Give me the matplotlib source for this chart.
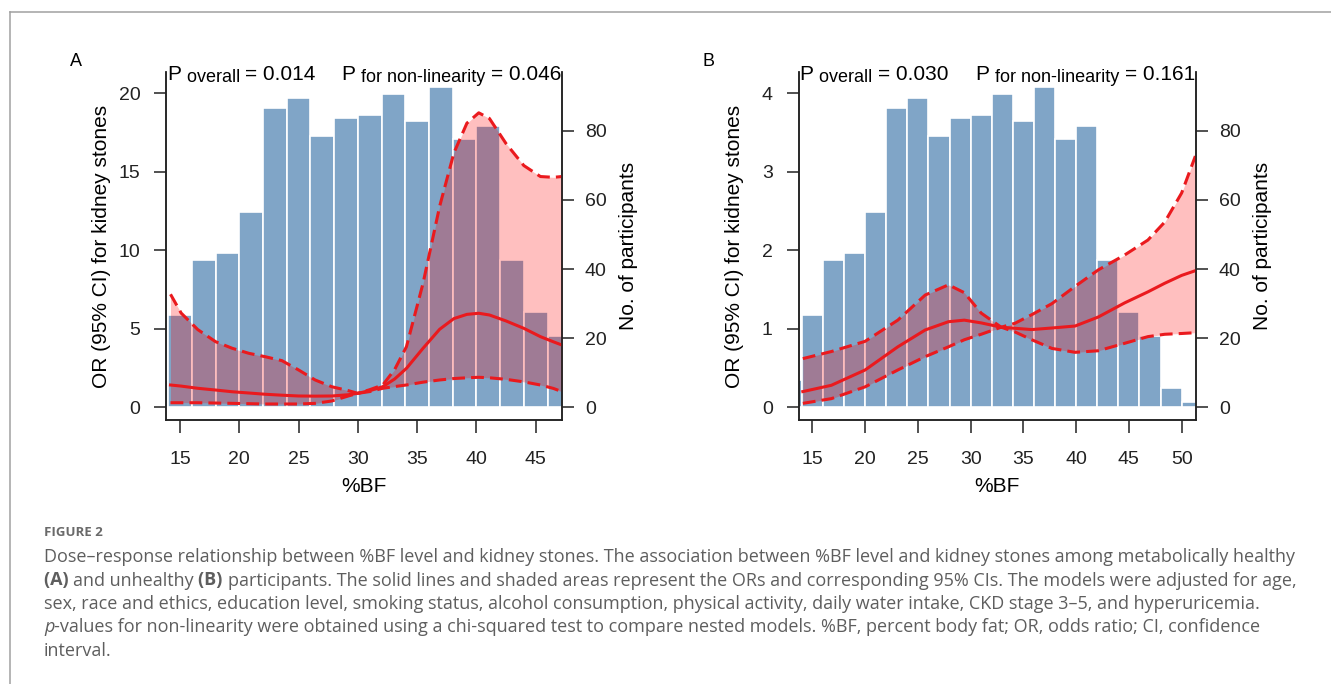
import numpy as np
import matplotlib
matplotlib.use("Agg")
import matplotlib.pyplot as plt
from matplotlib.lines import Line2D

plt.rcParams['font.family'] = ['Liberation Sans', 'DejaVu Sans']

W, H = 1331, 684

# histogram of %BF (same bins drawn in both panels)
bins_a = [12, 14, 16, 18, 20, 22, 24, 26, 28, 30, 32, 34, 36, 38, 40, 42, 44, 46]
counts_a = [7.9, 26.7, 42.6, 44.5, 56.6, 86.6, 89.6, 78.6, 83.6, 84.6, 90.6, 82.7,
            92.6, 77.7, 81.5, 42.6, 27.6, 20.7]
bins_b = [12, 14, 16, 18, 20, 22, 24, 26, 28, 30, 32, 34, 36, 38, 40, 42, 44, 46, 48, 50]
counts_b = [7.9, 26.7, 42.6, 44.5, 56.6, 86.6, 89.6, 78.6, 83.6, 84.6, 90.6, 82.7,
            92.6, 77.7, 81.5, 42.6, 27.6, 20.7, 5.5, 1.6]

# spline OR and 95% CI, metabolically healthy (A)
x_a = [14.2, 15.1, 16.5, 18.0, 19.4, 20.8, 22.2, 23.6, 25.0, 26.4, 27.8, 29.2, 30.0, 31.0,
       32.1, 33.1, 34.1, 35.5, 36.9, 38.1, 39.2, 40.2, 41.1, 42.5, 44.0, 45.4, 46.5, 47.2]
or_a = [1.42, 1.35, 1.21, 1.10, 0.99, 0.91, 0.83, 0.77, 0.72, 0.71, 0.72, 0.80, 0.89, 1.06,
        1.31, 1.80, 2.48, 3.76, 4.97, 5.65, 5.92, 5.99, 5.88, 5.50, 5.03, 4.50, 4.17, 3.97]
hi_a = [7.20, 6.00, 4.95, 4.18, 3.76, 3.44, 3.22, 2.97, 2.38, 1.74, 1.31, 1.06, 0.89, 1.12,
        1.42, 2.40, 3.86, 7.90, 12.8, 16.2, 18.1, 18.76, 18.4, 16.8, 15.4, 14.7, 14.65, 14.7]
lo_a = [0.29, 0.29, 0.29, 0.27, 0.25, 0.23, 0.21, 0.21, 0.21, 0.25, 0.40, 0.72, 0.89, 1.00,
        1.21, 1.32, 1.42, 1.60, 1.74, 1.83, 1.88, 1.91, 1.88, 1.78, 1.62, 1.42, 1.20, 1.00]

# metabolically unhealthy (B)
x_b = [14.1, 16.8, 20.0, 23.1, 25.7, 27.9, 29.4, 31.0, 32.9, 34.2, 35.8, 37.7, 39.9, 42.1,
       44.6, 46.8, 48.4, 50.0, 51.3]
or_b = [0.20, 0.28, 0.475, 0.77, 0.985, 1.09, 1.11, 1.075, 1.02, 1.006, 0.99, 1.01, 1.035,
        1.15, 1.33, 1.47, 1.58, 1.68, 1.74]
hi_b = [0.62, 0.71, 0.84, 1.11, 1.43, 1.56, 1.46, 1.20, 1.02, 1.07, 1.18, 1.32, 1.54, 1.75,
        1.94, 2.13, 2.36, 2.73, 3.20]
lo_b = [0.05, 0.11, 0.26, 0.475, 0.645, 0.77, 0.86, 0.93, 1.02, 0.96, 0.86, 0.75, 0.70,
        0.72, 0.815, 0.90, 0.93, 0.94, 0.95]

p_overall = ["0.014", "0.030"]
p_nonlin = ["0.046", "0.161"]

BAR = '#80A5C7'
RED = '#EA1A1E'

fig = plt.figure(figsize=(W / 100, H / 100), dpi=100)


def px_box(l, r, t, b):
    return [l / W, 1 - b / H, (r - l) / W, (b - t) / H]


def text_width(s, **kw):
    r = fig.canvas.get_renderer()
    a = fig.text(0, 0, '|' + s + '|', **kw)
    b = fig.text(0, 0, '||', **kw)
    w = a.get_window_extent(r).width - b.get_window_extent(r).width
    a.remove()
    b.remove()
    return w


def put_runs(x, y, runs, ha='left'):
    widths = [text_width(s, **kw) for s, kw, dy in runs]
    if ha == 'right':
        x -= sum(widths)
    for (s, kw, dy), w in zip(runs, widths):
        fig.text(x / W, 1 - (y + dy) / H, s, ha='left', va='baseline', **kw)
        x += w


def panel(box, bins, counts, x, orv, lo, hi, xlim, ylim, xticks, yticks):
    ax2 = fig.add_axes(box)
    ax = ax2.twinx()
    ax.set_zorder(ax2.get_zorder() + 1)
    ax.patch.set_visible(False)

    ax2.bar(bins, counts, width=2, align='edge', color=BAR, edgecolor='white', linewidth=1.2)
    ax2.set_ylim(-3.67, 96.98)
    ax2.set_yticks([0, 20, 40, 60, 80])
    ax2.yaxis.tick_right()

    ax.fill_between(x, lo, hi, color='red', alpha=0.25, linewidth=0)
    ax.plot(x, orv, color=RED, lw=2.2)
    ax.plot(x, lo, color=RED, lw=2.2, dashes=(4.2, 2))
    ax.plot(x, hi, color=RED, lw=2.2, dashes=(4.2, 2))
    ax.set_ylim(*ylim)
    ax.set_yticks(yticks)
    ax.yaxis.tick_left()
    ax.set_xlim(*xlim)
    ax2.set_xlim(*xlim)
    ax2.set_xticks(xticks)

    for a in (ax, ax2):
        a.spines['top'].set_visible(False)
        for s in ('left', 'right', 'bottom'):
            a.spines[s].set_linewidth(1.1)
            a.spines[s].set_color('#222222')
    ax.tick_params(axis='y', length=9, width=1.1, labelsize=14, pad=9.5, colors='#222222')
    ax2.tick_params(axis='y', length=8.5, width=1.1, labelsize=14, pad=8, colors='#222222')
    ax2.tick_params(axis='x', length=9, width=1.1, labelsize=14, pad=13, colors='#222222')
    return ax


box_a = (166, 562, 72, 420)
box_b = (798.5, 1196, 72, 420)

panel(px_box(*box_a), bins_a, counts_a, x_a, or_a, lo_a, hi_a,
      (13.82, 47.22), (-0.81, 21.36), [15, 20, 25, 30, 35, 40, 45], [0, 5, 10, 15, 20])
panel(px_box(*box_b), bins_b, counts_b, x_b, or_b, lo_b, hi_b,
      (13.69, 51.36), (-0.162, 4.271), [15, 20, 25, 30, 35, 40, 45, 50], [0, 1, 2, 3, 4])

for (l, r, t, b), letter, po, pn in zip([box_a, box_b], ['A', 'B'], p_overall, p_nonlin):
    fig.text((l - 90) / W, 1 - 61 / H, letter, fontsize=13, ha='center', va='center')
    fig.text((l - 64.5) / W, 1 - 246 / H, 'OR (95% CI) for kidney stones', fontsize=15,
             rotation=90, ha='center', va='center')
    fig.text((r + 67) / W, 1 - 246 / H, 'No. of participants', fontsize=15,
             rotation=90, ha='center', va='center')
    fig.text((l + r) / 2 / W, 1 - 486 / H, '%BF', fontsize=15, ha='center', va='center')
    put_runs(l + 1.5, 80, [('P ', dict(fontsize=15), 0),
                           ('overall ', dict(fontsize=13), 2.5),
                           ('= ' + po, dict(fontsize=15), 0)])
    put_runs(r - 1, 80, [('P ', dict(fontsize=15), 0),
                         ('for non-linearity ', dict(fontsize=13), 2.5),
                         ('= ' + pn, dict(fontsize=15), 0)], ha='right')

# page frame
fig.add_artist(Line2D([10 / W, 10 / W], [0, 1 - 12 / H], transform=fig.transFigure,
                      color='#a0a0a0', lw=1.1))
fig.add_artist(Line2D([10 / W, 1], [1 - 12 / H, 1 - 12 / H], transform=fig.transFigure,
                      color='#a0a0a0', lw=1.1))

# caption
cap = dict(family=['Open Sans', 'DejaVu Sans'], fontsize=13, color='#5e5e5e')
capb = dict(cap, weight='bold')
capi = dict(cap, style='italic')
put_runs(44, 536, [('FIGURE 2', dict(cap, fontsize=9.5, weight='bold', color='#6a6a6a'), 0)])
put_runs(44, 562, [('Dose\u2013response relationship between %BF level and kidney stones. '
                    'The association between %BF level and kidney stones among metabolically healthy', cap, 0)])
put_runs(44, 585.5, [('(A) ', capb, 0), ('and unhealthy ', cap, 0), ('(B) ', capb, 0),
                     ('participants. The solid lines and shaded areas represent the ORs and '
                      'corresponding 95% CIs. The models were adjusted for age,', cap, 0)])
put_runs(44, 609, [('sex, race and ethics, education level, smoking status, alcohol consumption, '
                    'physical activity, daily water intake, CKD stage 3\u20135, and hyperuricemia.', cap, 0)])
put_runs(44, 632.5, [('p', capi, 0),
                     ('-values for non-linearity were obtained using a chi-squared test to compare '
                      'nested models. %BF, percent body fat; OR, odds ratio; CI, confidence', cap, 0)])
put_runs(44, 656, [('interval.', cap, 0)])

fig.savefig('out.png', dpi=100)
